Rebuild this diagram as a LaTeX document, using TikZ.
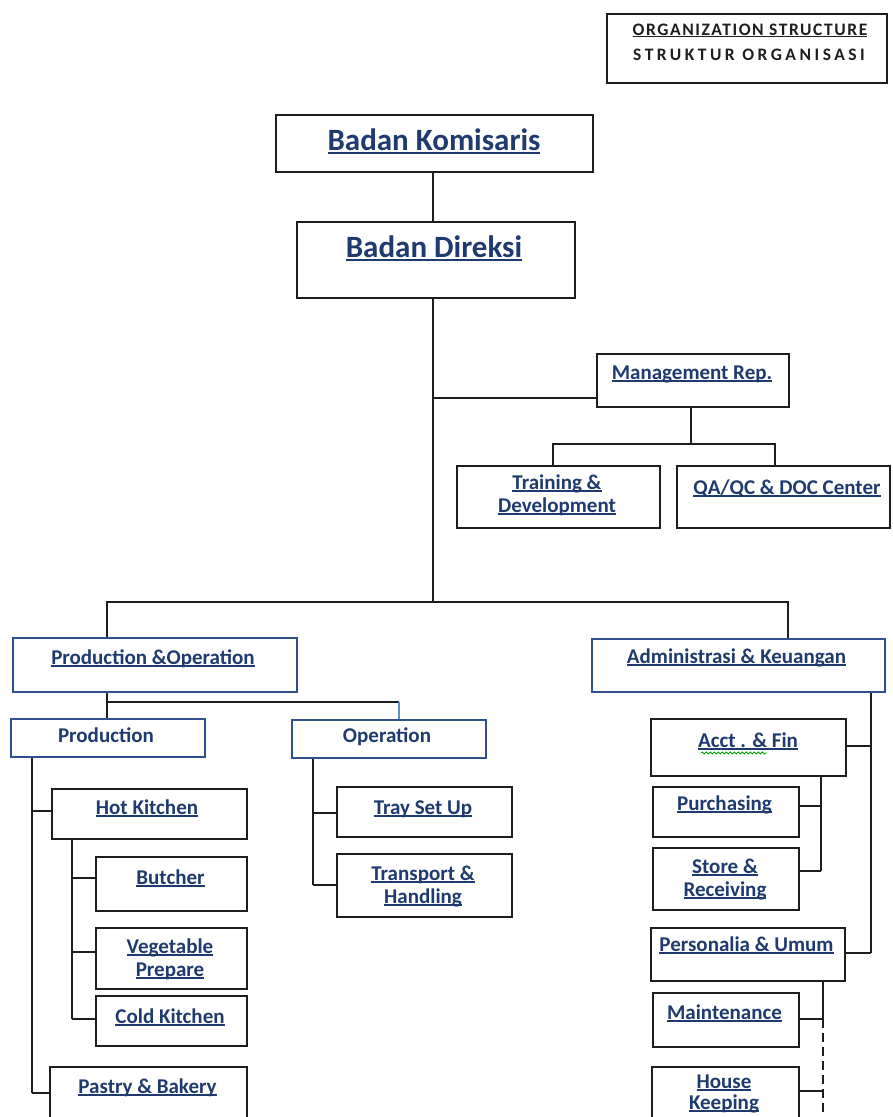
\documentclass[tikz,border=0pt]{standalone}
\usepackage{fontspec}
\setmainfont{Carlito}
\newfontfamily\ttlfontA{Carlito}[LetterSpace=9]
\newfontfamily\ttlfontB{Carlito}[LetterSpace=20]
\usetikzlibrary{decorations.pathmorphing}
\definecolor{navy}{HTML}{1F3A6E}
\definecolor{ink}{HTML}{1E1E1E}
\definecolor{bblue}{HTML}{2F4F8F}
\definecolor{lblue}{HTML}{5B8FD0}
\newcommand{\myul}[1]{\leavevmode\setbox0=\hbox{#1}\rlap{\rule[-0.14em]{\wd0}{0.08em}}\box0}
\begin{document}
\begin{tikzpicture}[x=1pt,y=-1pt,
  bx/.style n args={2}{draw=ink,line width=1.6pt,inner sep=0pt,minimum width=#1,minimum height=#2},
  bb/.style n args={2}{draw=bblue,line width=1.6pt,inner sep=0pt,minimum width=#1,minimum height=#2},
  lbl/.style={font=\bfseries\fontsize{21}{23}\selectfont,text=navy,anchor=base,align=center,inner sep=0pt},
  big/.style={font=\bfseries\fontsize{31}{36}\selectfont,text=navy,anchor=base,inner sep=0pt},
  ttl/.style={font=\bfseries\fontsize{17.5}{20}\selectfont,text=ink,anchor=base,inner sep=0pt},
  conn/.style={draw=ink,line width=1.8pt},
  lconn/.style={draw=lblue,line width=1.2pt}]
\useasboundingbox (0,0) rectangle (892,1117);
\fill[white] (0,0) rectangle (892,1117);
\clip (0,0) rectangle (892,1117);

% title
\node[bx={280pt}{69pt}] (title) at (747,48.5) {};
\node[ttl] (title1) at (750,35) {\ttlfontA\myul{ORGANIZATION STRUCTURE}};
\node[ttl] (title2) at (749,60) {\ttlfontB STRUKTUR ORGANISASI};

% top
\node[bx={317pt}{57pt}] (kom) at (434.5,143.5) {};
\node[big] (komt) at (434,150) {\myul{Badan Komisaris}};
\node[bx={278pt}{76pt}] (dir) at (436,260) {};
\node[big] (dirt) at (434,257) {\myul{Badan Direksi}};

% management
\node[bx={192pt}{53pt}] (mgmt) at (693,380.5) {};
\node[lbl] (mgmtt) at (692,379) {\myul{Management Rep.}};
\node[bx={203pt}{62pt}] (train) at (558.5,497) {};
\node[lbl] (traint) at (557,512) {\myul{Training \&}\\\myul{Development}};
\node[bx={213pt}{62pt}] (qa) at (783.5,497) {};
\node[lbl] (qat) at (787,494) {\myul{QA/QC \& DOC Center}};

% second level
\node[bb={284pt}{54pt}] (po) at (155,665) {};
\node[lbl] (pot) at (153,664) {\myul{Production \&Operation}};
\node[bb={293pt}{53pt}] (admin) at (738.5,665.5) {};
\node[lbl] (admint) at (736.5,663) {\myul{Administrasi \& Keuangan}};

% production side
\node[bb={194pt}{38pt}] (prod) at (108,738) {};
\node[lbl] (prodt) at (106,742) {Production};
\node[bb={194pt}{38pt}] (oper) at (389,739) {};
\node[lbl] (opert) at (387,742) {Operation};

\node[bx={195pt}{50pt}] (hot) at (149.5,814) {};
\node[lbl] (hott) at (147,814) {\myul{Hot Kitchen}};
\node[bx={151pt}{54pt}] (butcher) at (171.5,884) {};
\node[lbl] (butchert) at (170.5,884) {\myul{Butcher}};
\node[bx={151pt}{61pt}] (veg) at (171.5,958.5) {};
\node[lbl] (vegt) at (170,976) {\myul{Vegetable}\\\myul{Prepare}};
\node[bx={151pt}{50pt}] (cold) at (171.5,1021) {};
\node[lbl] (coldt) at (170,1023) {\myul{Cold Kitchen}};
\node[bx={197pt}{52pt}] (pastry) at (148.5,1093) {};
\node[lbl] (pastryt) at (147.5,1093) {\myul{Pastry \& Bakery}};

\node[bx={175pt}{50pt}] (tray) at (424.5,812) {};
\node[lbl] (trayt) at (423,814) {\myul{Tray Set Up}};
\node[bx={175pt}{63pt}] (transport) at (424.5,885.5) {};
\node[lbl] (transportt) at (423,903) {\myul{Transport \&}\\\myul{Handling}};

% admin side
\node[bx={195pt}{57pt}] (acct) at (748.5,747.5) {};
\node[lbl] (acctt) at (748,747) {\myul{Acct . \& Fin}};
\node[bx={146pt}{50pt}] (purch) at (726,812) {};
\node[lbl] (purcht) at (724.5,810) {\myul{Purchasing}};
\node[bx={146pt}{62pt}] (store) at (726,879) {};
\node[lbl] (storet) at (725,896) {\myul{Store \&}\\\myul{Receiving}};
\node[bx={194pt}{53pt}] (pers) at (748,954.5) {};
\node[lbl] (perst) at (746.5,951) {\myul{Personalia \& Umum}};
\node[bx={146pt}{54pt}] (maint) at (726,1020) {};
\node[lbl] (maintt) at (724.5,1019) {\myul{Maintenance}};
\node[bx={147pt}{72pt}] (house) at (725.5,1103) {};
\node[lbl,font=\bfseries\fontsize{21}{21}\selectfont] (houset) at (724,1109) {\myul{House}\\\myul{Keeping}};

% spell-check squiggle
\draw[green!60!black,line width=0.8pt,decorate,decoration={snake,amplitude=1pt,segment length=4pt}] (701,753) -- (767,753);

% coordinates
\coordinate (tx) at (433,0);
\coordinate (mj) at (433,398);
\coordinate (bar) at (433,602);
\coordinate (mbus) at (691,444);
\coordinate (mbl) at (553,444);
\coordinate (mbr) at (775,444);
\coordinate (barL) at (107,602);
\coordinate (barR) at (788,602);
\coordinate (pj) at (107,702);
\coordinate (pjr) at (399,702);
\coordinate (ps) at (32,0);
\coordinate (p1) at (32,811);
\coordinate (p5) at (32,1093);
\coordinate (h0) at (72,0);
\coordinate (h1) at (72,878);
\coordinate (h2) at (72,952);
\coordinate (h3) at (72,1019);
\coordinate (o0) at (313,0);
\coordinate (o1) at (313,813);
\coordinate (o2) at (313,885);
\coordinate (a0) at (871,0);
\coordinate (a1) at (871,746);
\coordinate (a2) at (871,953);
\coordinate (c0) at (821,0);
\coordinate (c1) at (821,806);
\coordinate (c2) at (821,871);
\coordinate (e0) at (823,0);
\coordinate (e1) at (823,1019);
\coordinate (e2) at (823,1091);
\coordinate (e3) at (823,1125);

% connectors
\draw[conn] (tx |- kom.south) -- (tx |- dir.north);
\draw[conn] (tx |- dir.south) -- (bar);
\draw[conn] (mj) -- (mj -| mgmt.west);
\draw[conn] (mbus |- mgmt.south) -- (mbus);
\draw[conn] (mbl |- train.north) -- (mbl) -- (mbr) -- (mbr |- qa.north);
\draw[conn] (barL |- po.north) -- (barL) -- (barR) -- (barR |- admin.north);
\draw[conn] (pj |- po.south) -- (pj |- prod.north);
\draw[conn] (pj) -- (pjr);
\draw[lconn] (pjr) -- (pjr |- oper.north);

\draw[conn] (ps |- prod.south) -- (p5);
\draw[conn] (p1) -- (p1 -| hot.west);
\draw[conn] (p5) -- (p5 -| pastry.west);
\draw[conn] (h0 |- hot.south) -- (h3);
\draw[conn] (h1) -- (h1 -| butcher.west);
\draw[conn] (h2) -- (h2 -| veg.west);
\draw[conn] (h3) -- (h3 -| cold.west);
\draw[conn] (o0 |- oper.south) -- (o2);
\draw[conn] (o1) -- (o1 -| tray.west);
\draw[conn] (o2) -- (o2 -| transport.west);

\draw[conn] (a0 |- admin.south) -- (a2);
\draw[conn] (a1) -- (a1 -| acct.east);
\draw[conn] (a2) -- (a2 -| pers.east);
\draw[conn] (c0 |- acct.south) -- (c2);
\draw[conn] (c1) -- (c1 -| purch.east);
\draw[conn] (c2) -- (c2 -| store.east);
\draw[conn] (e0 |- pers.south) -- (e1);
\draw[conn] (e1) -- (e1 -| maint.east);
\draw[conn,dash pattern=on 9pt off 5pt,line width=1.5pt] (e1) -- (e3);
\draw[conn] (e2) -- (e2 -| house.east);
\end{tikzpicture}
\end{document}
